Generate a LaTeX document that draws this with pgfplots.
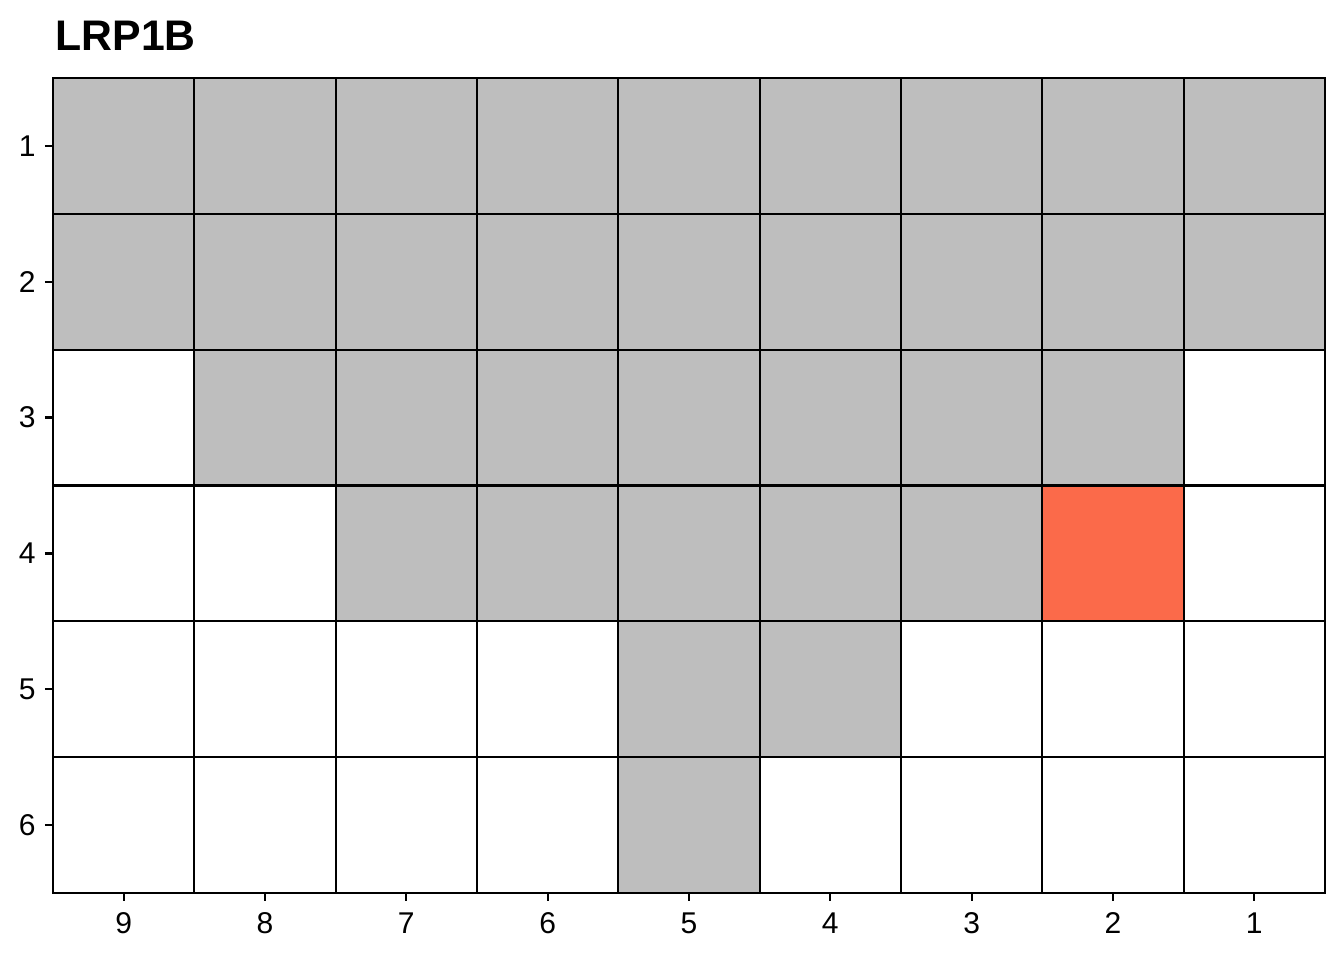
\documentclass[border=0pt]{standalone}
\usepackage{pgfplots}
\pgfplotsset{compat=1.18}
\usepackage{fontspec}
\setmainfont{Liberation Sans}
\definecolor{tilegray}{HTML}{BEBEBE}
\definecolor{tilered}{HTML}{FB6A4A}

% rows from bottom (label 6) to top (label 1), columns left (label 9) to right (label 1)
% 0 = empty, 1 = grey, 2 = red
\pgfplotstableread{
x y c
1 1 0
2 1 0
3 1 0
4 1 0
5 1 1
6 1 0
7 1 0
8 1 0
9 1 0
1 2 0
2 2 0
3 2 0
4 2 0
5 2 1
6 2 1
7 2 0
8 2 0
9 2 0
1 3 0
2 3 0
3 3 1
4 3 1
5 3 1
6 3 1
7 3 1
8 3 2
9 3 0
1 4 0
2 4 1
3 4 1
4 4 1
5 4 1
6 4 1
7 4 1
8 4 1
9 4 0
1 5 1
2 5 1
3 5 1
4 5 1
5 5 1
6 5 1
7 5 1
8 5 1
9 5 1
1 6 1
2 6 1
3 6 1
4 6 1
5 6 1
6 6 1
7 6 1
8 6 1
9 6 1
}\tiles

\begin{document}
\begin{tikzpicture}
\begin{axis}[
    scale only axis, width=477bp, height=305.625bp,
    xmin=0.5, xmax=9.5, ymin=0.5, ymax=6.5,
    xtick={1,...,9}, xticklabels={9,8,7,6,5,4,3,2,1},
    ytick={1,...,6}, yticklabels={6,5,4,3,2,1},
    minor xtick={1.5,2.5,...,8.5}, minor ytick={1.5,2.5,...,5.5},
    minor tick length=0pt,
    minor grid style={black, line width=0.85bp},
    grid=minor,
    xtick pos=bottom, ytick pos=left,
    tick align=outside, major tick length=3bp,
    major tick style={black, line width=0.85bp},
    axis line style={black, line width=0.85bp},
    ticklabel style={font=\fontsize{11.3}{13}\selectfont},
    xticklabel style={yshift=-1bp},
    /pgf/number format/assume math mode=true,
    colormap={tiles}{color(0)=(white) color(1)=(tilegray) color(2)=(tilered)},
    point meta min=0, point meta max=2,
    axis on top,
]
\addplot[matrix plot*, mesh/cols=9, point meta=explicit] table[x=x, y=y, meta=c] {\tiles};
\end{axis}
\node[anchor=base west, font=\bfseries\fontsize{16.1}{19}\selectfont, inner sep=0pt]
    at ([xshift=0.8bp, yshift=10.3bp]current axis.north west) {LRP1B};
\useasboundingbox ([xshift=-19.875bp, yshift=-25.125bp]current axis.south west)
    rectangle ([xshift=7.125bp, yshift=29.25bp]current axis.north east);
\end{tikzpicture}
\end{document}
